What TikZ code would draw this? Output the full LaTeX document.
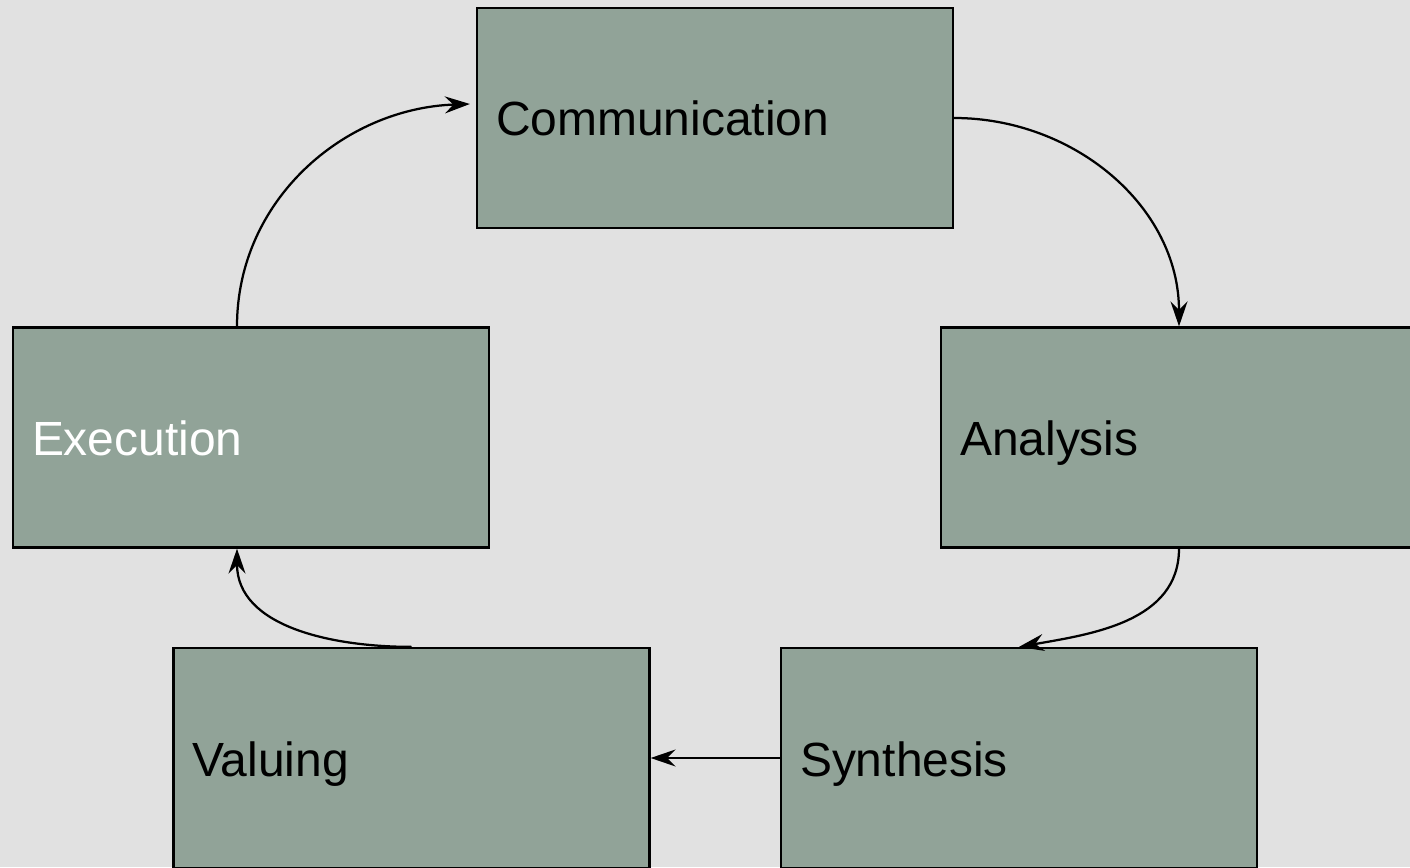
\documentclass[tikz,border=0pt]{standalone}
\usepackage{fontspec}
\setmainfont{Liberation Sans}
\usetikzlibrary{arrows.meta}
\definecolor{boxgreen}{HTML}{91A398}
\definecolor{slidegray}{HTML}{E1E1E1}

\begin{document}
\begin{tikzpicture}[
    >={Stealth[length=0.5cm,width=0.34cm,inset=0.17cm]},
    box/.style={
        draw=black,
        line width=0.045cm,
        fill=boxgreen,
        minimum width=9.52cm,
        minimum height=4.40cm,
        text width=8.76cm,
        inner xsep=0.38cm,
        text height=0.86cm,
        text depth=0.14cm,
        align=left,
        font=\fontsize{27.3}{32}\selectfont
    },
    arr/.style={->, line width=0.045cm, draw=black}
]
    \fill[slidegray] (0,0) rectangle (28.2,17.34);
    \clip (0,0) rectangle (28.2,17.34);

    \node[box] (comm) at (14.30,14.98) {Communication};

    \node[box, text=white] (exec) at (5.02,8.59) {Execution};

    \node[box] (anal) at (23.58,8.59) {Analysis};

    \node[box] (val) at (8.23,2.18) {Valuing};

    \node[box] (synth) at (20.38,2.18) {Synthesis};

    \draw[arr] (comm.east) to[out=0,in=90] (anal.north);
    \draw[arr] (anal.south) to[out=-90,in=10] (synth.north);
    \draw[arr] (synth.west) -- (val.east);
    \draw[arr] (val.north) to[out=180,in=-90] ([xshift=-0.28cm]exec.south);
    \draw[arr]
        ([xshift=-0.28cm]exec.north)
        to[out=90,in=182]
        ([xshift=-0.12cm,yshift=0.28cm]comm.west);
\end{tikzpicture}
\end{document}
